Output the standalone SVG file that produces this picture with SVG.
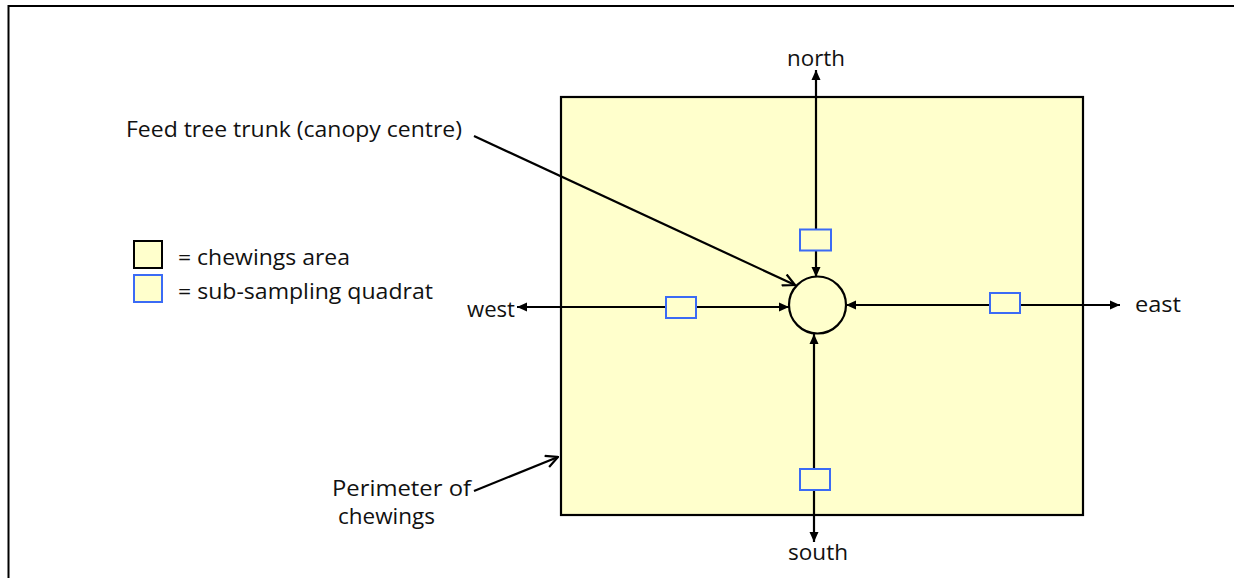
<svg xmlns="http://www.w3.org/2000/svg" width="1234" height="578" viewBox="0 0 1234 578">
<style>
text{font-family:"Open Sans","DejaVu Sans",sans-serif;font-size:22px;fill:#111}
.ln{stroke:#000;stroke-width:2.2;fill:none}
.q{fill:#FFFFCC;stroke:#3B6BF5;stroke-width:2}
</style>
<defs>
<marker id="fa" viewBox="0 0 10 10" refX="10" refY="5" markerWidth="10" markerHeight="10" markerUnits="userSpaceOnUse" orient="auto-start-reverse">
<path d="M0,0.5 L10,5 L0,9.5 Z" fill="#000"/>
</marker>
<marker id="oa" viewBox="0 0 14 14" refX="13" refY="7" markerWidth="14" markerHeight="14" markerUnits="userSpaceOnUse" orient="auto">
<path d="M1,1 L13,7 L1,13" fill="none" stroke="#000" stroke-width="2.2"/>
</marker>
</defs>
<g id="frame">
<path d="M8.5,578 V6 H1234" fill="none" stroke="#000" stroke-width="2"/>
</g>
<g id="chewings-area">
<rect x="561" y="97" width="522" height="418" fill="#FFFFCC" stroke="#000" stroke-width="2.2"/>
</g>
<g id="connectors">
<line class="ln" x1="816" y1="70" x2="816" y2="277" marker-start="url(#fa)" marker-end="url(#fa)"/>
<line class="ln" x1="814" y1="542" x2="814" y2="334" marker-start="url(#fa)" marker-end="url(#fa)"/>
<line class="ln" x1="517" y1="307" x2="789" y2="307" marker-start="url(#fa)" marker-end="url(#fa)"/>
<line class="ln" x1="1120" y1="305" x2="846" y2="305" marker-start="url(#fa)" marker-end="url(#fa)"/>
<line class="ln" x1="474" y1="136" x2="795" y2="285" marker-end="url(#oa)"/>
<line class="ln" x1="474" y1="491" x2="558" y2="457" marker-end="url(#oa)"/>
</g>
<g id="trunk">
<circle cx="817.5" cy="305" r="28.5" fill="#FFFFCC" stroke="#000" stroke-width="2.2"/>
</g>
<g id="quadrat-north"><rect class="q" x="800" y="229.5" width="31" height="21"/></g>
<g id="quadrat-south"><rect class="q" x="800" y="469" width="30" height="21"/></g>
<g id="quadrat-west"><rect class="q" x="666" y="297" width="30" height="21"/></g>
<g id="quadrat-east"><rect class="q" x="990" y="293" width="30" height="20"/></g>
<g id="legend">
<rect x="134" y="241" width="28" height="27" fill="#FFFFCC" stroke="#000" stroke-width="2"/>
<rect x="134" y="275" width="28" height="27" class="q"/>
<text x="178" y="265" textLength="172" lengthAdjust="spacingAndGlyphs">= chewings area</text>
<text x="178" y="299" textLength="255" lengthAdjust="spacingAndGlyphs">= sub-sampling quadrat</text>
</g>
<g id="labels">
<text x="787" y="66" textLength="58" lengthAdjust="spacingAndGlyphs">north</text>
<text x="788" y="560" textLength="60" lengthAdjust="spacingAndGlyphs">south</text>
<text x="467" y="317" textLength="48" lengthAdjust="spacingAndGlyphs">west</text>
<text x="1135" y="312" textLength="46" lengthAdjust="spacingAndGlyphs">east</text>
<text x="126" y="137" textLength="336" lengthAdjust="spacingAndGlyphs">Feed tree trunk (canopy centre)</text>
<text x="332" y="496" textLength="139" lengthAdjust="spacingAndGlyphs">Perimeter of</text>
<text x="338" y="524" textLength="97" lengthAdjust="spacingAndGlyphs">chewings</text>
</g>
</svg>
